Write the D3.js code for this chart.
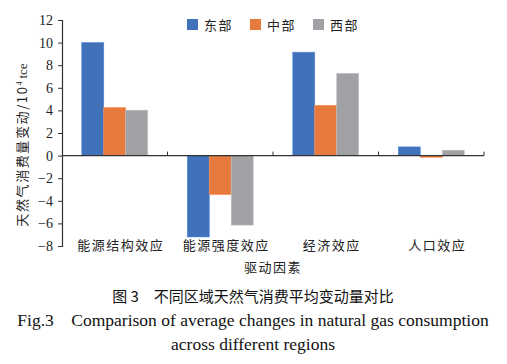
<!DOCTYPE html>
<html><head><meta charset="utf-8">
<script src="https://cdn.jsdelivr.net/npm/d3@7"></script>
<style>
html,body{margin:0;padding:0;background:#fff;}
svg{display:block;}
</style>
</head><body>
<svg id="c" width="507" height="364"></svg>
<script>
const categories = ["能源结构效应","能源强度效应","经济效应","人口效应"];
const seriesNames = ["东部","中部","西部"];
const east = [10.0, -7.2, 9.15, 0.77];
const central = [4.25, -3.45, 4.45, -0.15];
const west = [4.02, -6.15, 7.28, 0.48];
const yTicks = [12,10,8,6,4,2,0,-2,-4,-6,-8];
const colors = ["#4071B9","#E67A3F","#A0A1A5"];
const seriesValues = [east, central, west];

const svg = d3.select("#c");
const cjk = "'Noto Sans CJK SC','Noto Sans CJK JP',sans-serif";
const serif = "'Liberation Serif','DejaVu Serif',serif";

const x = d3.scaleBand().domain(categories).range([62, 484]).paddingInner(0).paddingOuter(0);
const xs = d3.scaleBand().domain(seriesNames).range([0, x.bandwidth()]).paddingInner(0).paddingOuter(0.9);
const y = d3.scaleLinear().domain([-8, 12]).range([246, 20]);

// bars
seriesNames.forEach((s, si) => {
  svg.append("g").selectAll("rect").data(categories).join("rect")
    .attr("x", c => x(c) + xs(s))
    .attr("width", xs.bandwidth())
    .attr("y", (c, i) => y(Math.max(0, seriesValues[si][i])))
    .attr("height", (c, i) => Math.abs(y(seriesValues[si][i]) - y(0)))
    .attr("fill", colors[si])
    .attr("stroke", d3.color(colors[si]).brighter(0.5))
    .attr("stroke-width", 0.6);
});

// y axis
const yAxis = svg.append("g").attr("transform", "translate(62,0)")
  .call(d3.axisLeft(y).tickValues(yTicks).tickSize(4).tickPadding(5)
    .tickFormat(d => d < 0 ? "\u2212" + Math.abs(d) : d));
yAxis.select(".domain").attr("stroke", "#333").attr("stroke-width", 1.2);
yAxis.selectAll(".tick line").attr("stroke", "#333");
yAxis.selectAll("text").attr("font-family", serif).attr("font-size", 14).attr("fill", "#222");

// x axis zero line
svg.append("line").attr("x1", 62).attr("x2", 484).attr("y1", y(0)).attr("y2", y(0))
  .attr("stroke", "#333").attr("stroke-width", 1.2);
svg.append("g").selectAll("line").data(categories).join("line")
  .attr("x1", c => x(c) + x.bandwidth()).attr("x2", c => x(c) + x.bandwidth())
  .attr("y1", y(0)).attr("y2", y(0) - 4).attr("stroke", "#333").attr("stroke-width", 1);

// category labels
const xAxis = svg.append("g").attr("transform", "translate(6,240)")
  .call(d3.axisBottom(x).tickSize(0).tickPadding(0));
xAxis.select(".domain").remove();
xAxis.selectAll("text").attr("font-family", cjk).attr("font-size", 13)
  .attr("letter-spacing", 1.5).attr("fill", "#222").attr("dy", "0.75em");

// x title
svg.append("text").attr("x", 273).attr("y", 272).attr("text-anchor", "middle")
  .attr("font-family", cjk).attr("font-size", 13).attr("letter-spacing", 1.5).attr("fill", "#222")
  .text("驱动因素");

// y title
const yt = svg.append("text").attr("transform", "translate(27,145) rotate(-90)")
  .attr("text-anchor", "middle").attr("font-size", 13).attr("fill", "#222");
yt.append("tspan").attr("font-family", cjk).attr("letter-spacing", 1.6).text("天然气消费量变动/10");
yt.append("tspan").attr("font-family", serif).attr("font-size", 8).attr("dy", -5).text("4");
yt.append("tspan").attr("font-family", serif).attr("dy", 5).attr("dx", 3).text("tce");

// legend
const lx = [187, 250, 313];
seriesNames.forEach((s, i) => {
  svg.append("rect").attr("x", lx[i]).attr("y", 19).attr("width", 11).attr("height", 11).attr("fill", colors[i]);
  svg.append("text").attr("x", lx[i] + 17).attr("y", 29.5).attr("font-family", cjk).attr("font-size", 13)
    .attr("letter-spacing", 1.5).attr("fill", "#222").text(s);
});

// captions
svg.append("text").attr("x", 253).attr("y", 302).attr("text-anchor", "middle")
  .attr("font-family", cjk).attr("font-size", 15).attr("font-weight", 400).attr("fill", "#111")
  .text("图\u00a03\u3000不同区域天然气消费平均变动量对比");
svg.append("text").attr("x", 253).attr("y", 326).attr("text-anchor", "middle")
  .attr("font-family", serif).attr("font-size", 17.5).attr("fill", "#111")
  .text("Fig.3\u2003Comparison of average changes in natural gas consumption");
svg.append("text").attr("x", 253).attr("y", 350).attr("text-anchor", "middle")
  .attr("font-family", serif).attr("font-size", 17.5).attr("fill", "#111")
  .text("across different regions");
</script>
</body></html>
